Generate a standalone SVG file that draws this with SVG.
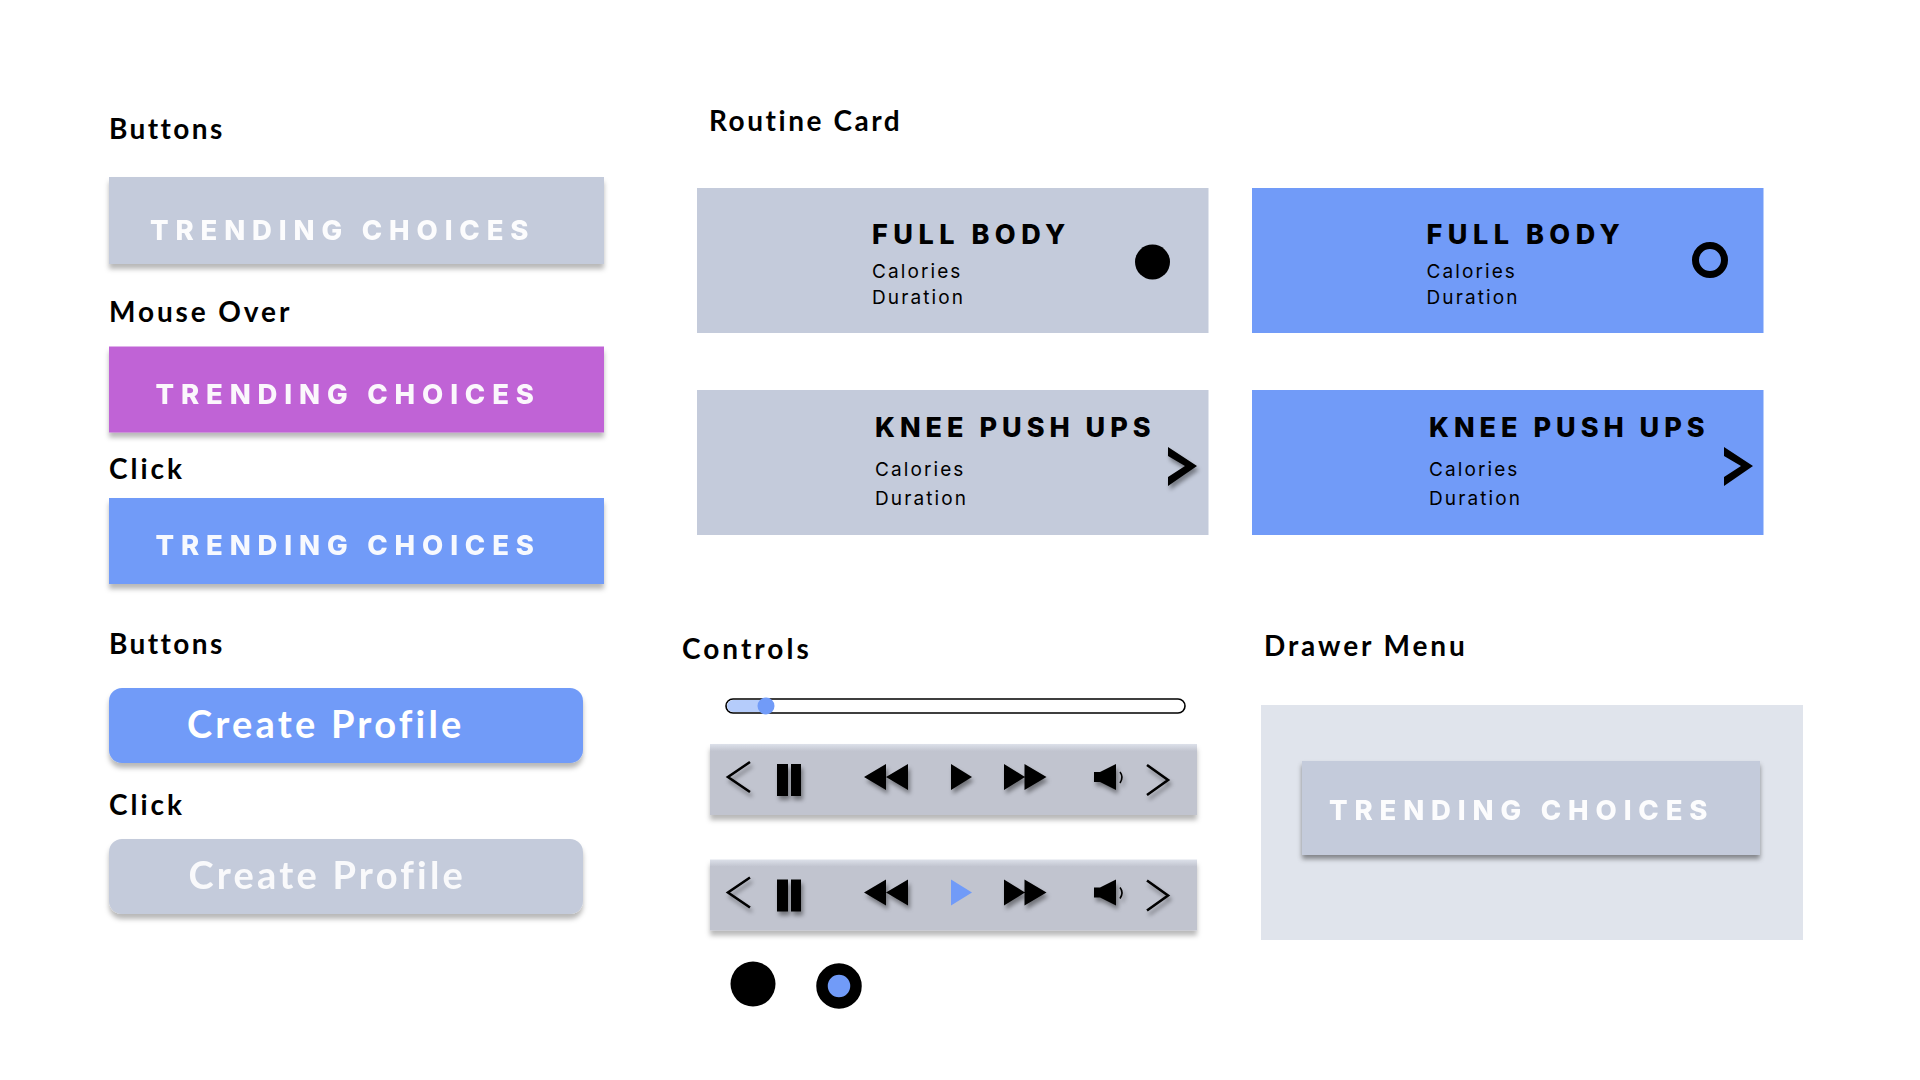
<svg xmlns="http://www.w3.org/2000/svg" width="1920" height="1080" viewBox="0 0 1920 1080">
<defs>
<filter id="sh" x="-5%" y="-20%" width="110%" height="150%"><feDropShadow dx="0" dy="5" stdDeviation="2.5" flood-color="#000" flood-opacity="0.28"/></filter>
<filter id="sh2" x="-5%" y="-20%" width="110%" height="150%"><feDropShadow dx="0" dy="4" stdDeviation="2.5" flood-color="#000" flood-opacity="0.42"/></filter>
<filter id="ish" x="-30%" y="-30%" width="170%" height="170%"><feDropShadow dx="2" dy="4" stdDeviation="2" flood-color="#000" flood-opacity="0.4"/></filter>
<linearGradient id="bar" x1="0" y1="0" x2="0" y2="1"><stop offset="0" stop-color="#dde1ea"/><stop offset=".1" stop-color="#c1c4cf"/><stop offset="1" stop-color="#c1c4cf"/></linearGradient>
<g id="ctl">
<rect x="0" y="0" width="487" height="71" fill="url(#bar)" filter="url(#sh)"/>
<g filter="url(#ish)">
<path d="M40 18 L18 33 L40 48" fill="none" stroke="#000" stroke-width="2.6"/>
<rect x="67" y="20" width="11" height="32"/><rect x="81" y="20" width="10" height="32"/>
<path d="M176 20 L176 46 L154 33 Z M198 20 L198 46 L176 33 Z"/>
<path d="M294 20 L294 46 L315 33 Z M314.5 20 L314.5 46 L336.5 33 Z"/>
<path d="M384 28 L390 28 L406 20 L406 46 L390 38 L384 38 Z"/>
<path d="M410 28 Q414 33 410 39" fill="none" stroke="#000" stroke-width="1.6"/>
<path d="M437 21 L458 36 L437 51" fill="none" stroke="#000" stroke-width="2.6"/>
</g>
</g>
</defs>
<style>
.t{font-family:"Lato","Liberation Sans",sans-serif;font-weight:700;font-size:28px;letter-spacing:3px;fill:#000}
.t2{letter-spacing:2.4px}
.b{font-family:"Inter","Liberation Sans",sans-serif;font-weight:800;font-size:27.5px;letter-spacing:6.85px;fill:#fff;opacity:.95}
.p{font-family:"Lato","Liberation Sans",sans-serif;font-weight:700;font-size:38px;letter-spacing:3.2px;fill:#fff}
.h{font-family:"Inter","Liberation Sans",sans-serif;font-weight:800;font-size:27px;fill:#000}
.s{font-family:"Inter","Liberation Sans",sans-serif;font-weight:400;font-size:19px;letter-spacing:2.1px;fill:#000}
.g{fill:#c4cbdb}.u{fill:#719bf8}
</style>
<rect width="1920" height="1080" fill="#fff"/>
<g id="labels">
<text class="t t2" x="109" y="139">Buttons</text>
<text class="t" x="109" y="322" style="letter-spacing:2.9px">Mouse Over</text>
<text class="t" x="109" y="479">Click</text>
<text class="t t2" x="109" y="654">Buttons</text>
<text class="t" x="109" y="815">Click</text>
<text class="t" x="709" y="131" style="letter-spacing:2.55px">Routine Card</text>
<text class="t" x="682" y="659">Controls</text>
<text class="t" x="1264" y="656" style="letter-spacing:2.9px">Drawer Menu</text>
</g>
<g id="btn-default"><rect class="g" x="109" y="177" width="495" height="87" filter="url(#sh)"/><text class="b" x="150" y="240">TRENDING CHOICES</text></g>
<g id="btn-hover"><rect fill="#c063d6" x="109" y="346.5" width="495" height="86" filter="url(#sh)"/><text class="b" x="155.5" y="404">TRENDING CHOICES</text></g>
<g id="btn-click"><rect class="u" x="109" y="498" width="495" height="86" filter="url(#sh)"/><text class="b" x="155.5" y="555">TRENDING CHOICES</text></g>
<g id="profile"><rect class="u" x="109" y="688" width="474" height="75" rx="13" filter="url(#sh)"/><text class="p" x="187" y="738">Create Profile</text></g>
<g id="profile-click"><rect class="g" x="109" y="839" width="474" height="75" rx="13" filter="url(#sh)"/><text class="p" x="188.5" y="889" opacity=".9">Create Profile</text></g>
<g id="card1"><rect class="g" x="697" y="188" width="511.5" height="145"/><text class="h" x="872" y="244" letter-spacing="5.5">FULL BODY</text><text class="s" x="872" y="278">Calories</text><text class="s" x="872" y="304">Duration</text><circle cx="1152.5" cy="262" r="17.5"/></g>
<g id="card2"><rect class="u" x="1252" y="188" width="511.5" height="145"/><text class="h" x="1426.5" y="244" letter-spacing="5.5">FULL BODY</text><text class="s" x="1426.5" y="278">Calories</text><text class="s" x="1426.5" y="304">Duration</text><circle cx="1710" cy="260" r="14.5" fill="none" stroke="#000" stroke-width="7"/></g>
<g id="card3"><rect class="g" x="697" y="390" width="511.5" height="145"/><text class="h" x="875" y="436.5" letter-spacing="5">KNEE PUSH UPS</text><text class="s" x="875" y="475.5">Calories</text><text class="s" x="875" y="505">Duration</text><path d="M1168 447 L1197 466 L1168 486 L1168 477 L1185 466 L1168 456Z" filter="url(#ish)"/></g>
<g id="card4"><rect class="u" x="1252" y="390" width="511.5" height="145"/><text class="h" x="1429" y="436.5" letter-spacing="5">KNEE PUSH UPS</text><text class="s" x="1429" y="475.5">Calories</text><text class="s" x="1429" y="505">Duration</text><path d="M1724 447 L1753 466 L1724 486 L1724 477 L1741 466 L1724 456Z"/></g>
<g id="slider"><rect x="726" y="699" width="459" height="14" rx="7" fill="#fff" stroke="#000" stroke-width="1.6"/><path d="M733 700 H766 V712 H733 A6 6 0 0 1 733 700Z" fill="#b5ccfb"/><circle class="u" cx="766" cy="706" r="8.5"/></g>
<g id="controls1" transform="translate(710,744)"><use href="#ctl"/><path d="M241 20 L241 46 L262 33 Z" filter="url(#ish)"/></g>
<g id="controls2" transform="translate(710,859.5)"><use href="#ctl"/><path d="M241 20 L241 46 L262 33 Z" fill="#719bf8"/></g>
<g id="dot1"><circle cx="753" cy="984" r="22.5"/></g>
<g id="dot2"><circle cx="839" cy="986" r="17" fill="#719bf8" stroke="#000" stroke-width="11.5"/></g>
<g id="drawer"><rect fill="#e0e4ec" x="1261" y="705" width="542" height="235"/><rect class="g" x="1302" y="761" width="458" height="94" filter="url(#sh2)"/><text class="b" x="1329" y="820">TRENDING CHOICES</text></g>
</svg>
